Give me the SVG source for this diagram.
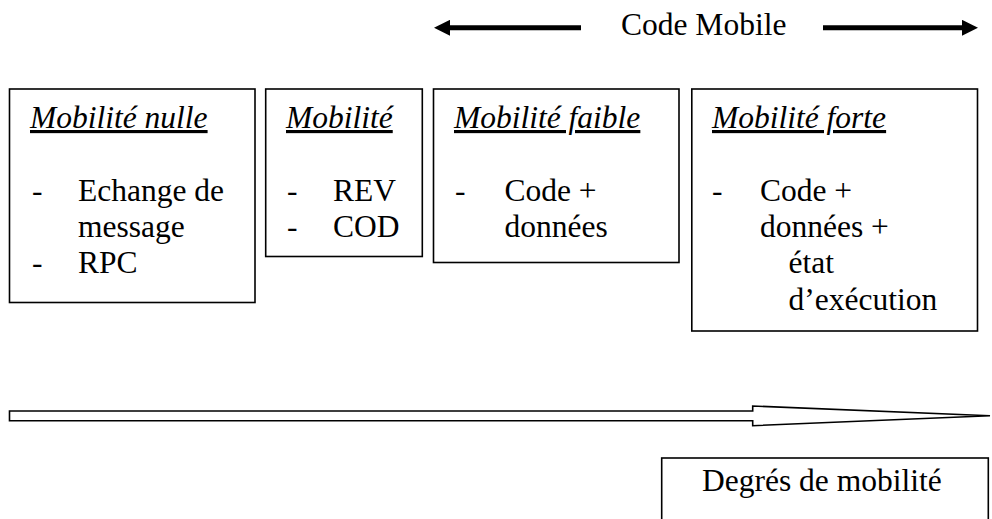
<svg xmlns="http://www.w3.org/2000/svg" width="992" height="519" viewBox="0 0 992 519" font-family="'Liberation Serif', 'Times New Roman', Tinos, 'DejaVu Serif', serif">
  <style>
    text { font-family: "Liberation Serif", "Times New Roman", Tinos, "DejaVu Serif", serif; font-size: 31.5px; fill: #000; }
    .title { font-style: italic; text-decoration: underline; }
    .box { fill: #fff; stroke: #000; stroke-width: 1.6; }
    .shaft { stroke: #000; stroke-width: 5; fill: none; marker-end: url(#head); }
    .hollow { fill: #fff; stroke: #000; stroke-width: 1.6; stroke-linejoin: miter; }
  </style>
  <defs>
    <marker id="head" viewBox="0 0 16 16" markerWidth="16" markerHeight="16" refX="0" refY="8" orient="auto" markerUnits="userSpaceOnUse">
      <path d="M0,0 L16,8 L0,16 Z" fill="#000"/>
    </marker>
  </defs>
  <rect width="992" height="519" fill="#fff"/>

  <!-- Header label between the two arrows -->
  <g id="code-mobile">
    <text x="621" y="35">Code Mobile</text>
  </g>

  <!-- Null mobility -->
  <g id="mobilite-nulle">
    <rect class="box" x="9.5" y="89" width="245.5" height="213.5"/>
    <text class="title" x="30" y="128">Mobilité nulle</text>
    <text x="32" y="200.5">-</text>
    <text x="78" y="200.5">Echange de</text>
    <text x="78" y="237">message</text>
    <text x="32" y="273.3">-</text>
    <text x="78" y="273.3">RPC</text>
  </g>

  <!-- Mobility -->
  <g id="mobilite">
    <rect class="box" x="265.7" y="89" width="156.6" height="167.5"/>
    <text class="title" x="286" y="128">Mobilité</text>
    <text x="287" y="200.5">-</text>
    <text x="333" y="200.5">REV</text>
    <text x="287" y="237">-</text>
    <text x="333" y="237">COD</text>
  </g>

  <!-- Weak mobility -->
  <g id="mobilite-faible">
    <rect class="box" x="433.5" y="89" width="245.5" height="173.5"/>
    <text class="title" x="454" y="128">Mobilité faible</text>
    <text x="455" y="200.5">-</text>
    <text x="504.5" y="200.5">Code +</text>
    <text x="504.5" y="237">données</text>
  </g>

  <!-- Strong mobility -->
  <g id="mobilite-forte">
    <rect class="box" x="691.8" y="89" width="285.7" height="242"/>
    <text class="title" x="712" y="128">Mobilité forte</text>
    <text x="712" y="200.5">-</text>
    <text x="760" y="200.5">Code +</text>
    <text x="760" y="237">données +</text>
    <text x="788.5" y="273.3">état</text>
    <text x="788.5" y="309.6">d’exécution</text>
  </g>

  <!-- Scale label -->
  <g id="degres">
    <rect class="box" x="661.7" y="458" width="326.6" height="80"/>
    <text x="702" y="491">Degrés de mobilité</text>
  </g>

  <!-- Arrows -->
  <g id="connectors">
    <line class="shaft" x1="581" y1="27.8" x2="450" y2="27.8"/>
    <line class="shaft" x1="823" y1="27.8" x2="962" y2="27.8"/>
    <polygon class="hollow" points="9.5,411 752.7,411 752.7,406 990,415.7 752.7,425.7 752.7,420.7 9.5,420.7"/>
  </g>
</svg>
